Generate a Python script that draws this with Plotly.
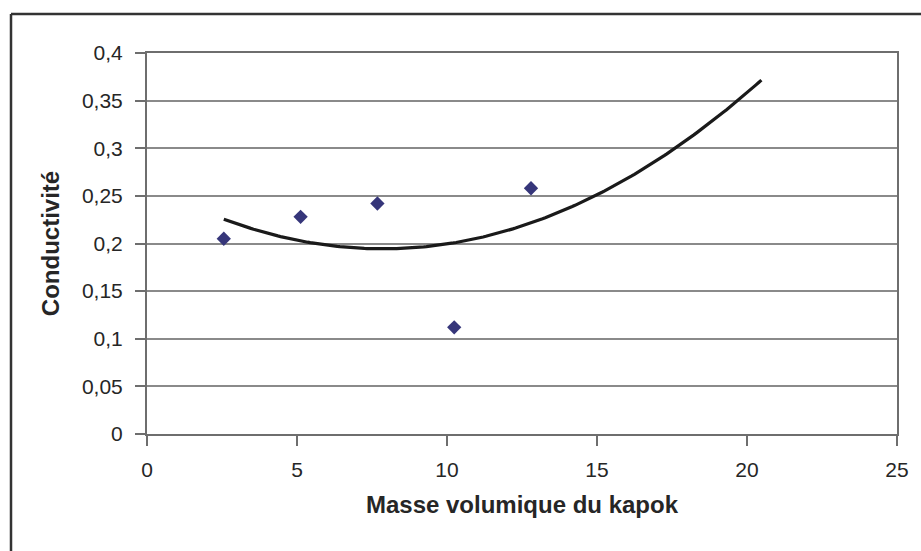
import numpy as np
import plotly.graph_objects as go

# Measured points: kapok bulk density vs thermal conductivity
masse_volumique = [2.56, 5.12, 7.68, 10.24, 12.8]
conductivite = [0.205, 0.228, 0.242, 0.112, 0.258]

x_ticks = [0, 5, 10, 15, 20, 25]
y_ticks = [0, 0.05, 0.1, 0.15, 0.2, 0.25, 0.3, 0.35, 0.4]

# Order-2 polynomial trendline, extended forward to 20.48
coef = np.polyfit(masse_volumique, conductivite, 2)
x_fit = np.linspace(masse_volumique[0], 20.48, 200)
y_fit = np.polyval(coef, x_fit)

L, R, T, B = 147, 24, 53, 117
W, H = 921, 551
pw, ph = W - L - R, H - T - B

FONT = "Liberation Sans, Arial, sans-serif"
tick_font = dict(family=FONT, size=21, color="#262626")
title_font = dict(family=FONT, size=24, color="#262626")

fig = go.Figure()
fig.add_trace(go.Scatter(
    x=x_fit, y=y_fit, mode="lines",
    line=dict(color="#1a1a1a", width=3.2),
    hoverinfo="skip", showlegend=False,
))
fig.add_trace(go.Scatter(
    x=masse_volumique, y=conductivite, mode="markers",
    marker=dict(symbol="diamond", size=11, color="#36367a"),
    showlegend=False,
))

fig.update_layout(
    width=W, height=H,
    margin=dict(l=L, r=R, t=T, b=B),
    paper_bgcolor="white",
    plot_bgcolor="white",
    separators=", ",
    font=tick_font,
    xaxis=dict(
        range=[0, 25], tickvals=x_ticks, ticks="outside", ticklen=10,
        tickcolor="#6e6e6e", tickwidth=1.5, showline=True,
        linecolor="#6e6e6e", linewidth=2, mirror=True, showgrid=False,
        zeroline=False, tickfont=tick_font, ticklabelstandoff=6,
        title=dict(text="<b>Masse volumique du kapok</b>", font=title_font,
                   standoff=16),
    ),
    yaxis=dict(
        range=[0, 0.4], tickvals=y_ticks, ticks="outside", ticklen=10,
        tickcolor="#6e6e6e", tickwidth=1.5, showline=True,
        linecolor="#6e6e6e", linewidth=2, mirror=True, showgrid=True,
        gridcolor="#8a8a8a", gridwidth=1.5, zeroline=False,
        tickfont=tick_font, ticklabelstandoff=8,
        title=dict(text="<b>Conductivité</b>", font=title_font, standoff=16),
    ),
)

# Outer chart frame (top and left edges)
x_left = (11 - L) / pw
y_top = (H - B - 14) / ph
fig.add_shape(type="line", xref="paper", yref="paper",
              x0=x_left, y0=y_top, x1=1.1, y1=y_top,
              line=dict(color="#333333", width=2.5))
fig.add_shape(type="line", xref="paper", yref="paper",
              x0=x_left, y0=y_top, x1=x_left, y1=-0.4,
              line=dict(color="#333333", width=2.5))

fig.write_html("out.html")
